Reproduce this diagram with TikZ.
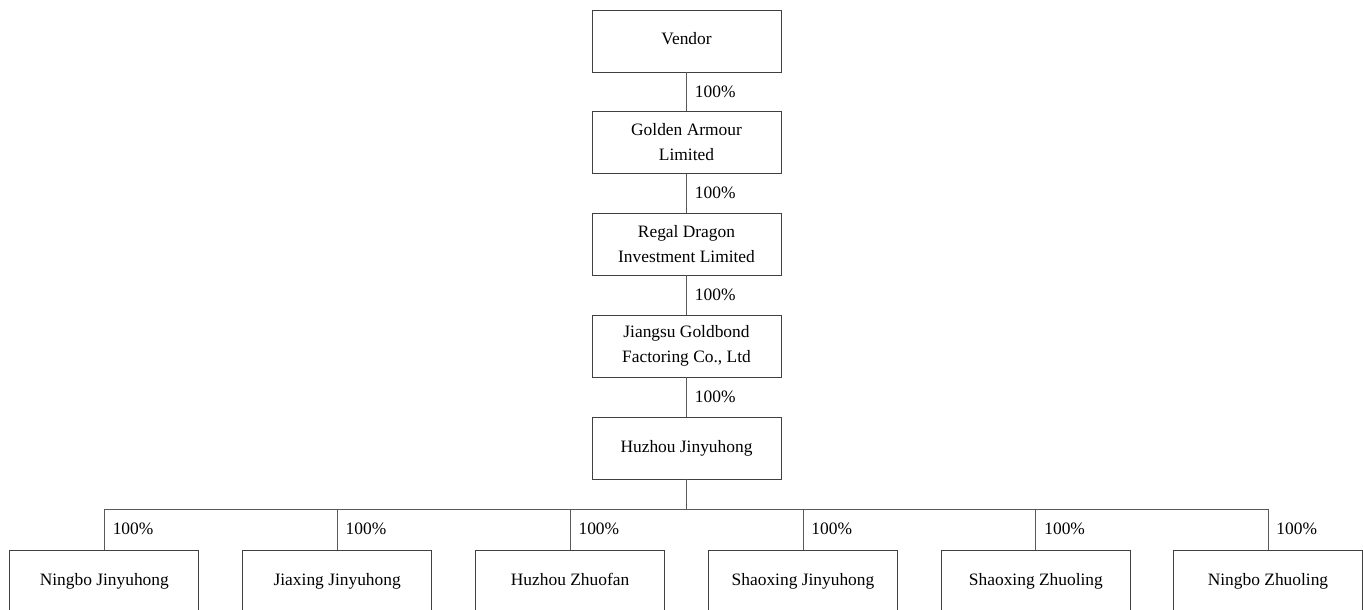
\documentclass[tikz,border=0pt]{standalone}
\usepackage{fontspec}
\setmainfont{Liberation Serif}
\begin{document}
\begin{tikzpicture}[x=1pt,y=-1pt,
  box/.style={draw=black!75, line width=0.9pt, minimum width=189pt, minimum height=62pt, inner sep=0pt, align=center, font=\fontsize{17.4}{25}\selectfont},
  onebox/.style={box, text height=12pt, text depth=4pt},
  link/.style={draw=black!65, line width=0.9pt},
  pct/.style={anchor=west, inner sep=0pt, xshift=8pt, font=\fontsize{17.4}{25}\selectfont}]
\useasboundingbox (0,0) rectangle (1363,610);
\node[onebox] (vendor) at (686.5,41) {Vendor};
\node[box] (golden) at (686.5,142.5) {Golden Armour\\Limited};
\node[box] (regal) at (686.5,244) {Regal Dragon\\Investment Limited};
\node[box] (jiangsu) at (686.5,346) {Jiangsu Goldbond\\Factoring Co., Ltd};
\node[onebox] (huzhou) at (686.5,448) {Huzhou Jinyuhong};
\node[onebox] (c1) at (104.3,581) {Ningbo Jinyuhong};
\node[onebox] (c2) at (337.2,581) {Jiaxing Jinyuhong};
\node[onebox] (c3) at (570.1,581) {Huzhou Zhuofan};
\node[onebox] (c4) at (803,581) {Shaoxing Jinyuhong};
\node[onebox] (c5) at (1035.9,581) {Shaoxing Zhuoling};
\node[onebox] (c6) at (1268,581) {Ningbo Zhuoling};
\coordinate (bus) at (686.5,509);
\draw[link] (vendor.south) -- (golden.north) node[midway,pct] {100\%};
\draw[link] (golden.south) -- (regal.north) node[midway,pct] {100\%};
\draw[link] (regal.south) -- (jiangsu.north) node[midway,pct] {100\%};
\draw[link] (jiangsu.south) -- (huzhou.north) node[midway,pct] {100\%};
\draw[link] (huzhou.south) -- (bus);
\draw[link] (c1.north |- bus) -- (c6.north |- bus);
\foreach \c in {c1,c2,c3,c4,c5,c6}{
  \draw[link] (\c.north |- bus) -- (\c.north) node[midway,pct] {100\%};
}
\end{tikzpicture}
\end{document}
